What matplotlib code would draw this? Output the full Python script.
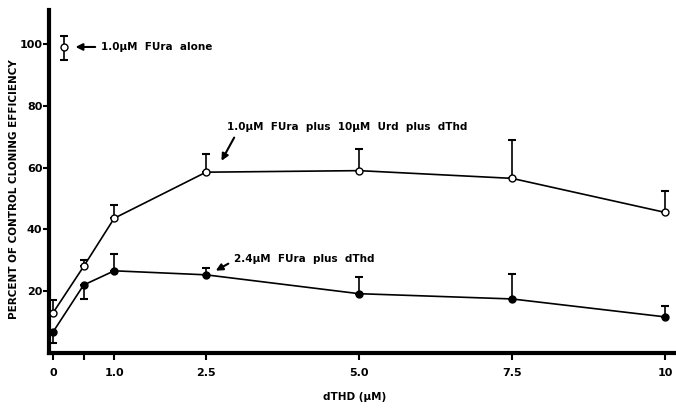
import numpy as np
import matplotlib.pyplot as plt

# dThd concentration (uM)
dthd = [0, 0.5, 1.0, 2.5, 5.0, 7.5, 10]

# 1.0uM FUra plus 10uM Urd plus dThd (open circles)
urd_y = [13, 28, 43.6, 58.5, 59, 56.5, 45.5]
urd_up = [4, 2, 4.4, 6, 7, 12.5, 7]

# 2.4uM FUra plus dThd (filled circles)
fura_y = [6.8, 22, 26.6, 25.3, 19.2, 17.5, 11.7]
fura_up = [0, 0, 5.4, 2.3, 5.5, 8.2, 3.6]
fura_lo = [3.5, 4.5, 0, 0, 0, 0, 0]

# 1.0uM FUra alone
alone_x = [0.18]
alone_y = [99]
alone_lo = [4.2]
alone_up = [3.6]

xticks = [0, 0.5, 1.0, 2.5, 5.0, 7.5, 10]
xticklabels = ['0', '', '1.0', '2.5', '5.0', '7.5', '10']
yticks = [20, 40, 60, 80, 100]

plt.rcParams['font.family'] = ['DejaVu Sans']
plt.rcParams['font.weight'] = 'bold'

fig = plt.figure(figsize=(6.76, 4.11), dpi=100)
ax = fig.add_axes([0.073, 0.141, 0.927, 0.835])

ax.errorbar(dthd, urd_y, yerr=[np.zeros(len(urd_up)), urd_up], fmt='-o',
            color='black', mfc='white', mec='black', ms=5, lw=1.2,
            capsize=3, elinewidth=1.2, capthick=1.5, zorder=3)
ax.errorbar(dthd, fura_y, yerr=[fura_lo, fura_up], fmt='-o',
            color='black', mfc='black', ms=5, lw=1.2,
            capsize=3, elinewidth=1.2, capthick=1.5, zorder=3)
ax.errorbar(alone_x, alone_y, yerr=[alone_lo, alone_up], fmt='o',
            color='black', mfc='white', mec='black', ms=5,
            capsize=3, elinewidth=1.2, capthick=1.5, zorder=3)

ax.set_xlim(-0.06, 10.18)
ax.set_ylim(0, 111)

for s in ['top', 'right']:
    ax.spines[s].set_visible(False)
ax.spines['left'].set_linewidth(3)
ax.spines['bottom'].set_linewidth(3)

ax.set_xticks(xticks)
ax.set_xticklabels(xticklabels)
ax.set_yticks(yticks)
ax.tick_params(axis='x', direction='out', length=5, width=1.5,
               labelsize=8, pad=6)
ax.tick_params(axis='y', direction='out', length=4, width=1.5,
               labelsize=8, pad=1)
for lab in ax.get_xticklabels() + ax.get_yticklabels():
    lab.set_fontweight('bold')

fig.text(0.02, 0.54, 'PERCENT OF CONTROL CLONING EFFICIENCY', fontsize=7.5,
         fontweight='bold', rotation=90, ha='center', va='center')
fig.text(0.525, 0.035, 'dTHD (\u03bcM)', fontsize=7.5, fontweight='bold',
         ha='center', va='center')

arrow = dict(arrowstyle='-|>', color='black', lw=1.5, mutation_scale=10,
             relpos=(0, 0.5), shrinkA=2, shrinkB=3)
ax.annotate('1.0\u03bcM  FUra  alone', xy=(0.3, 99), xytext=(0.78, 99),
            fontsize=7.5, fontweight='bold', va='center', arrowprops=arrow)
arrow2 = dict(arrow, relpos=(0.04, 0))
ax.annotate('1.0\u03bcM  FUra  plus  10\u03bcM  Urd  plus  dThd',
            xy=(2.72, 61), xytext=(2.85, 73), fontsize=7.5,
            fontweight='bold', va='center', arrowprops=arrow2)
arrow3 = dict(arrow, relpos=(0, 0.3))
ax.annotate('2.4\u03bcM  FUra  plus  dThd', xy=(2.6, 26), xytext=(2.95, 30.5),
            fontsize=7.5, fontweight='bold', va='center', arrowprops=arrow3)

fig.savefig('out.png', dpi=100)
